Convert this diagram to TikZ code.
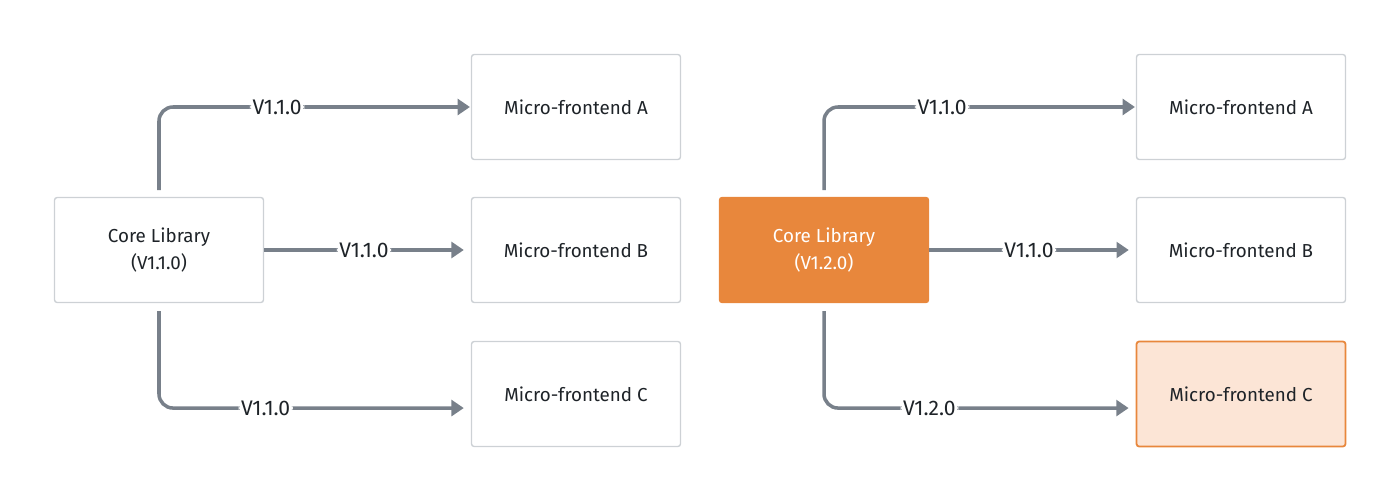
\documentclass[tikz,border=0pt]{standalone}
\usepackage{fontspec}
\setmainfont{Fira Sans}
\usetikzlibrary{arrows.meta}
\definecolor{linegray}{HTML}{78808A}
\definecolor{boxgray}{HTML}{CDD1D5}
\definecolor{coreorange}{HTML}{E8873C}
\definecolor{lightorange}{HTML}{FCE5D6}
\definecolor{txt}{HTML}{1E2328}
\begin{document}
\begin{tikzpicture}[x=0.02cm,y=-0.02cm,
  box/.style={draw=boxgray,line width=0.8pt,rounded corners=1.5pt,minimum width=4.18cm,minimum height=2.1cm,align=center,font=\fontsize{10.7}{15.5}\selectfont,text=txt,inner sep=0pt},
  corebox/.style={box,fill=coreorange,draw=coreorange,text=white},
  hlbox/.style={box,fill=lightorange,draw=coreorange,line width=1pt},
  conn/.style={draw=linegray,line width=2pt,rounded corners=8pt,-{Triangle[length=7pt,width=9pt]}},
  lbl/.style={fill=white,inner sep=1.5pt,font=\fontsize{12}{13}\selectfont,text=txt}]
\useasboundingbox (0,0) rectangle (1400,500);
% left group
\node[box] (cl) at (159,250) {Core Library\\(V1.1.0)};
\node[box] (la) at (576,107) {Micro-frontend A};
\node[box] (lb) at (576,250) {Micro-frontend B};
\node[box] (lc) at (576,394) {Micro-frontend C};
\coordinate (cltop) at (159,190);
\coordinate (clbot) at (159,311);
\draw[conn] (cltop) |- node[lbl,pos=0.69] {V1.1.0} ([xshift=-0.5pt]la.west);
\draw[conn] (cl.east) -- node[lbl,pos=0.5] {V1.1.0} ([xshift=-4pt]lb.west);
\draw[conn] (clbot) |- node[lbl,pos=0.675] {V1.1.0} ([xshift=-4pt,yshift=-8pt]lc.west);
% right group
\node[corebox] (cr) at (824,250) {Core Library\\(V1.2.0)};
\node[box] (ra) at (1241,107) {Micro-frontend A};
\node[box] (rb) at (1241,250) {Micro-frontend B};
\node[hlbox] (rc) at (1241,394) {Micro-frontend C};
\coordinate (crtop) at (824,190);
\coordinate (crbot) at (824,311);
\draw[conn] (crtop) |- node[lbl,pos=0.69] {V1.1.0} ([xshift=-0.5pt]ra.west);
\draw[conn] (cr.east) -- node[lbl,pos=0.5] {V1.1.0} ([xshift=-4pt]rb.west);
\draw[conn] (crbot) |- node[lbl,pos=0.673] {V1.2.0} ([xshift=-4pt,yshift=-8pt]rc.west);
\end{tikzpicture}
\end{document}
